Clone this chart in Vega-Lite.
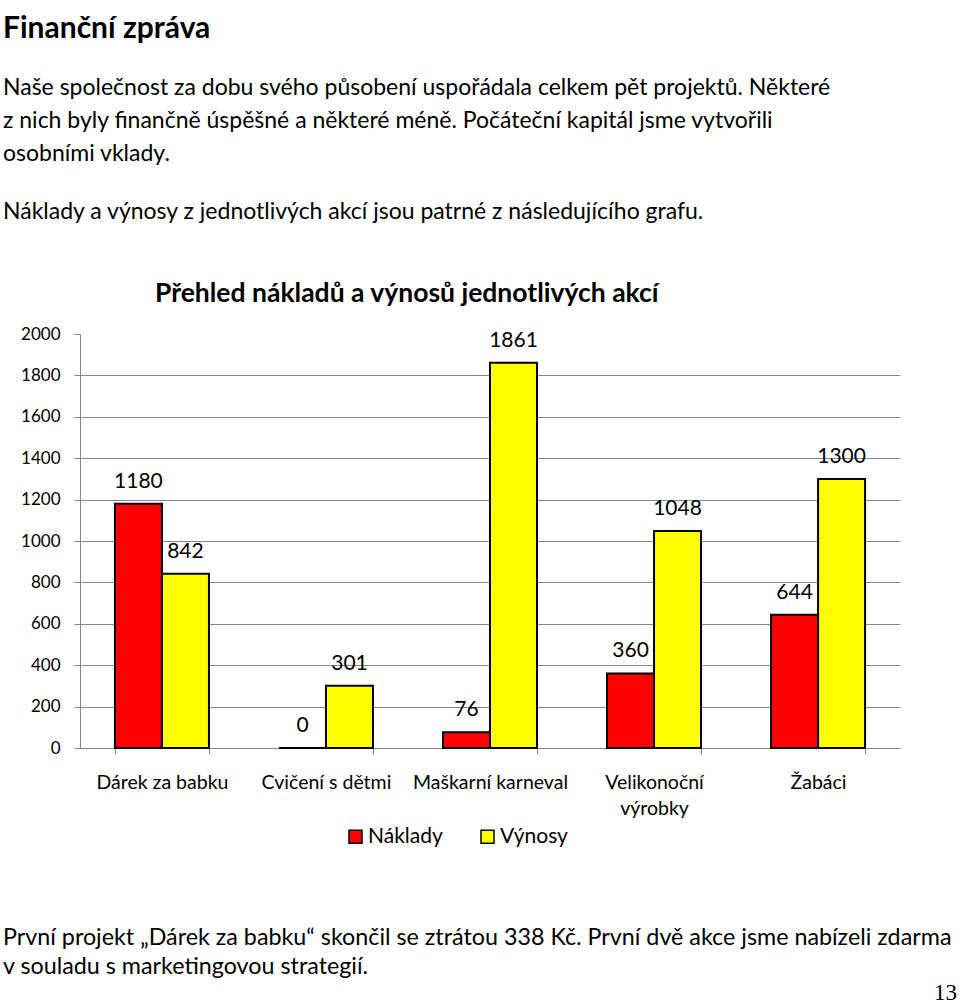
{
  "$schema": "https://vega.github.io/schema/vega-lite/v6.json",
  "background": "white",
  "padding": {"left": 3, "top": 13, "right": 0, "bottom": 0},
  "title": {
    "text": "Finanční zpráva",
    "subtitle": [
      "Naše společnost za dobu svého působení uspořádala celkem pět projektů. Některé",
      "z nich byly finančně úspěšné a některé méně. Počáteční kapitál jsme vytvořili",
      "osobními vklady."
    ],
    "anchor": "start",
    "frame": "bounds",
    "font": "Lato",
    "fontSize": 30,
    "fontWeight": "bold",
    "color": "#000000",
    "subtitleFont": "Lato",
    "subtitleFontSize": 23,
    "subtitleColor": "#000000",
    "subtitleLineHeight": 33,
    "subtitlePadding": 33,
    "offset": 35
  },
  "spacing": 78,
  "resolve": {"scale": {"color": "independent"}, "legend": {"color": "independent"}},
  "vconcat": [
    {
      "title": {
        "text": "Náklady a výnosy z jednotlivých akcí jsou patrné z následujícího grafu.",
        "anchor": "start",
        "frame": "bounds",
        "font": "Lato",
        "fontSize": 23,
        "fontWeight": "normal",
        "color": "#000000",
        "offset": 57
      },
      "vconcat": [
        {
          "width": 820,
          "height": 414,
          "title": {
            "text": "Přehled nákladů a výnosů jednotlivých akcí",
            "anchor": "start",
            "frame": "group",
            "dx": 75,
            "font": "Lato",
            "fontSize": 26.5,
            "fontWeight": "bold",
            "color": "#000000",
            "offset": 18
          },
          "data": {
            "values": [
              {"akce": "Dárek za babku", "typ": "Náklady", "castka": 1180},
              {"akce": "Dárek za babku", "typ": "Výnosy", "castka": 842},
              {"akce": "Cvičení s dětmi", "typ": "Náklady", "castka": 0},
              {"akce": "Cvičení s dětmi", "typ": "Výnosy", "castka": 301},
              {"akce": "Maškarní karneval", "typ": "Náklady", "castka": 76},
              {"akce": "Maškarní karneval", "typ": "Výnosy", "castka": 1861},
              {"akce": "Velikonoční výrobky", "typ": "Náklady", "castka": 360},
              {"akce": "Velikonoční výrobky", "typ": "Výnosy", "castka": 1048},
              {"akce": "Žabáci", "typ": "Náklady", "castka": 644},
              {"akce": "Žabáci", "typ": "Výnosy", "castka": 1300}
            ]
          },
          "encoding": {
            "x": {
              "field": "akce",
              "type": "nominal",
              "sort": null,
              "scale": {"paddingInner": 0.427, "paddingOuter": 0.213},
              "axis": {
                "title": null,
                "labelAngle": 0,
                "labelFont": "Lato",
                "labelFontSize": 19.5,
                "labelColor": "#000000",
                "labelPadding": 19,
                "labelLineHeight": 26,
                "labelExpr": "length(datum.label) > 18 ? split(datum.label, ' ') : datum.label",
                "tickBand": "extent",
                "tickSize": 6,
                "tickColor": "#868686",
                "domainColor": "#868686",
                "grid": false
              }
            },
            "xOffset": {"field": "typ", "type": "nominal", "sort": ["Náklady", "Výnosy"]},
            "y": {
              "field": "castka",
              "type": "quantitative",
              "scale": {"domain": [0, 2000]},
              "axis": {
                "title": null,
                "format": "d",
                "values": [0, 200, 400, 600, 800, 1000, 1200, 1400, 1600, 1800, 2000],
                "labelFont": "Lato",
                "labelFontSize": 17,
                "labelColor": "#000000",
                "labelPadding": 14,
                "tickSize": 6,
                "tickColor": "#868686",
                "domainColor": "#868686",
                "grid": true,
                "gridColor": {"condition": {"test": "datum.value >= 2000", "value": "transparent"}, "value": "#868686"},
                "minExtent": 77,
                "maxExtent": 77
              }
            }
          },
          "layer": [
            {
              "mark": {"type": "bar", "stroke": "#000000", "strokeWidth": 2},
              "encoding": {
                "color": {
                  "field": "typ",
                  "type": "nominal",
                  "scale": {"domain": ["Náklady", "Výnosy"], "range": ["#ff0000", "#ffff00"]},
                  "legend": {
                    "orient": "none",
                    "legendX": 265,
                    "legendY": 492,
                    "direction": "horizontal",
                    "title": null,
                    "symbolType": "square",
                    "symbolSize": 169,
                    "symbolStrokeColor": "#000000",
                    "symbolStrokeWidth": 1.5,
                    "labelFont": "Lato",
                    "labelFontSize": 21,
                    "labelColor": "#000000",
                    "labelOffset": 2,
                    "columnPadding": 34
                  }
                }
              }
            },
            {
              "mark": {"type": "text", "baseline": "alphabetic", "dy": -16, "font": "Lato", "fontSize": 21, "color": "#000000"},
              "encoding": {"text": {"field": "castka", "type": "quantitative"}}
            }
          ]
        }
      ]
    },
    {
      "width": 880,
      "height": 20,
      "title": {
        "text": [
          "První projekt „Dárek za babku“ skončil se ztrátou 338 Kč. První dvě akce jsme nabízeli zdarma",
          "v souladu s marketingovou strategií."
        ],
        "anchor": "start",
        "frame": "bounds",
        "font": "Lato",
        "fontSize": 23.3,
        "fontWeight": "normal",
        "color": "#000000",
        "lineHeight": 29,
        "offset": 3
      },
      "data": {"values": [{"strana": "13"}]},
      "mark": {"type": "text", "align": "right", "baseline": "middle", "dx": -3, "font": "Liberation Serif", "fontSize": 23, "color": "#000000"},
      "encoding": {
        "text": {"field": "strana", "type": "nominal"},
        "x": {"value": "width"},
        "y": {
          "field": "strana",
          "type": "nominal",
          "axis": {"title": null, "labels": false, "ticks": false, "domain": false, "grid": false, "minExtent": 77, "maxExtent": 77}
        }
      }
    }
  ],
  "config": {
    "view": {"stroke": null}
  }
}
